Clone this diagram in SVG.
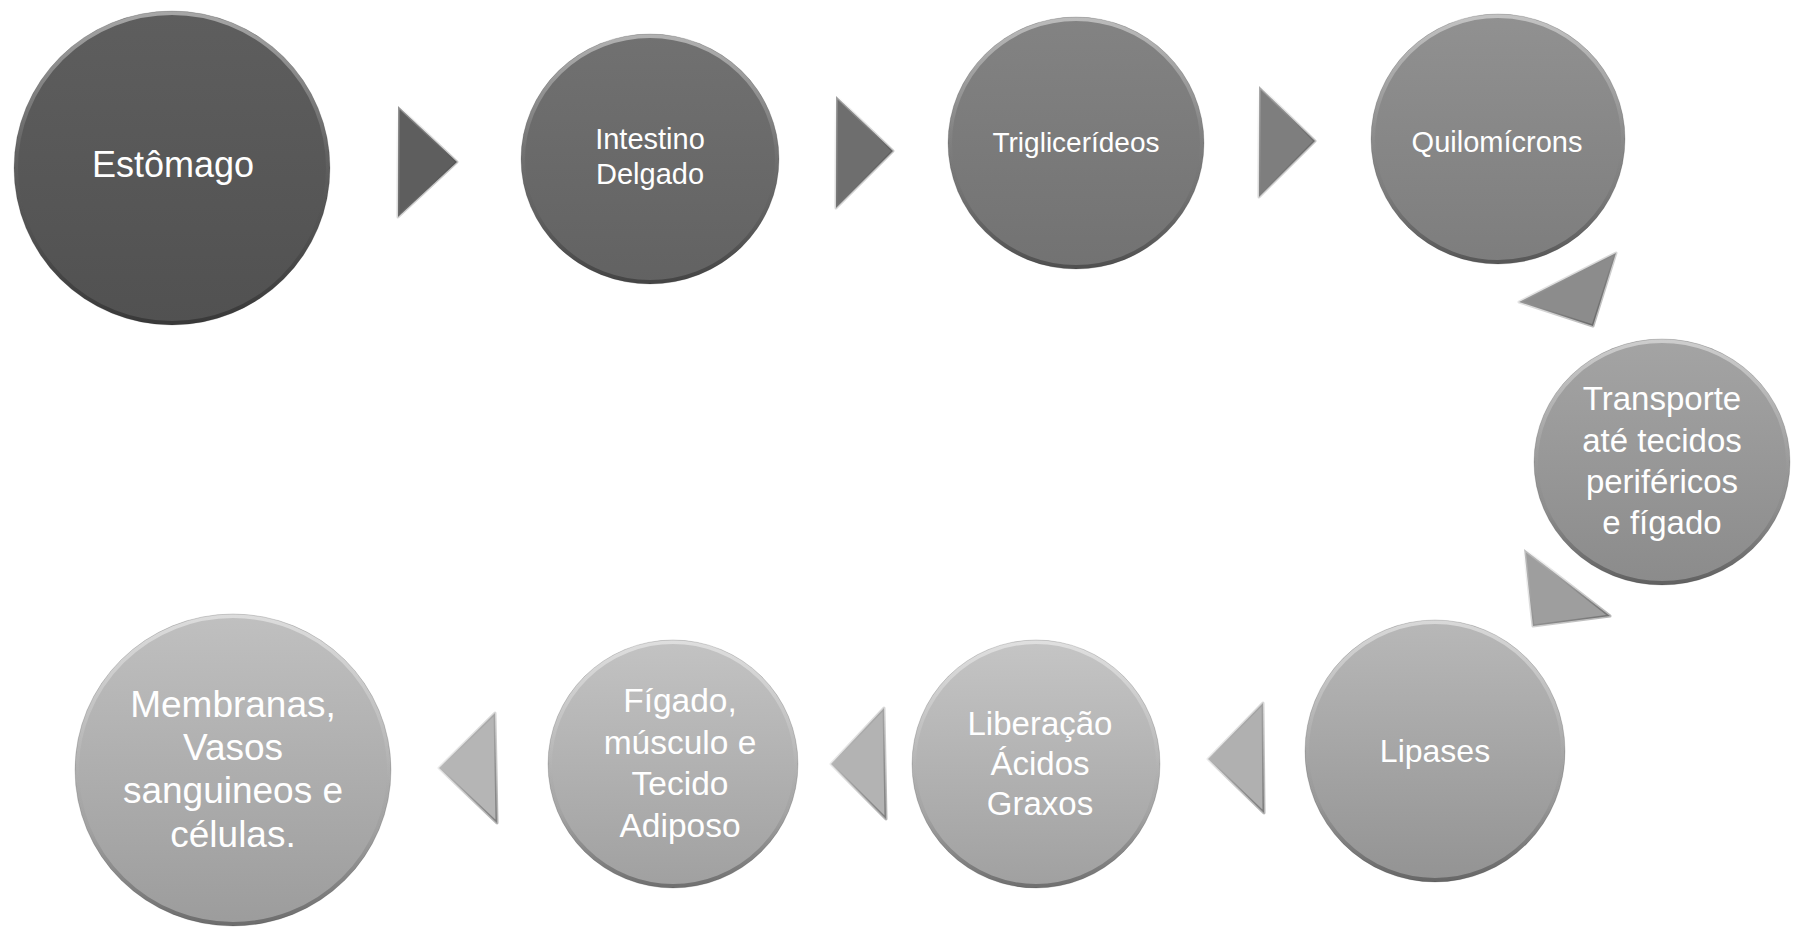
<svg xmlns="http://www.w3.org/2000/svg" width="1797" height="927" viewBox="0 0 1797 927">
  <style>
    .lbl { font-family: "Liberation Sans", Arial, sans-serif; fill: #ffffff; text-anchor: middle; }
    .rim { fill: none; stroke: url(#rim); stroke-width: 4; }
    .edge { fill: none; stroke: #000; stroke-opacity: 0.15; stroke-width: 1; }
    .tri { stroke-linejoin: round; }
    .tririm { fill: none; stroke: url(#tririm); stroke-width: 3; stroke-linejoin: round; }
  </style>
  <defs>
    <!-- bevel rim: light on top, shadowed at the bottom -->
    <linearGradient id="rim" x1="0" y1="0" x2="0" y2="1">
      <stop offset="0" stop-color="#fff" stop-opacity="0.45"/>
      <stop offset="0.45" stop-color="#fff" stop-opacity="0.06"/>
      <stop offset="0.7" stop-color="#000" stop-opacity="0.04"/>
      <stop offset="1" stop-color="#000" stop-opacity="0.3"/>
    </linearGradient>
    <linearGradient id="tririm" x1="0" y1="0" x2="1" y2="1">
      <stop offset="0" stop-color="#fff" stop-opacity="0.35"/>
      <stop offset="1" stop-color="#000" stop-opacity="0.3"/>
    </linearGradient>
    <linearGradient id="g1" x1="0" y1="0" x2="0" y2="1"><stop offset="0" stop-color="#5e5e5e"/><stop offset="1" stop-color="#515151"/></linearGradient>
    <linearGradient id="g2" x1="0" y1="0" x2="0" y2="1"><stop offset="0" stop-color="#717171"/><stop offset="1" stop-color="#626262"/></linearGradient>
    <linearGradient id="g3" x1="0" y1="0" x2="0" y2="1"><stop offset="0" stop-color="#838383"/><stop offset="1" stop-color="#727272"/></linearGradient>
    <linearGradient id="g4" x1="0" y1="0" x2="0" y2="1"><stop offset="0" stop-color="#919191"/><stop offset="1" stop-color="#7d7d7d"/></linearGradient>
    <linearGradient id="g5" x1="0" y1="0" x2="0" y2="1"><stop offset="0" stop-color="#a4a4a4"/><stop offset="1" stop-color="#8b8b8b"/></linearGradient>
    <linearGradient id="g6" x1="0" y1="0" x2="0" y2="1"><stop offset="0" stop-color="#b8b8b8"/><stop offset="1" stop-color="#939393"/></linearGradient>
    <linearGradient id="g7" x1="0" y1="0" x2="0" y2="1"><stop offset="0" stop-color="#c5c5c5"/><stop offset="1" stop-color="#a0a0a0"/></linearGradient>
    <linearGradient id="g8" x1="0" y1="0" x2="0" y2="1"><stop offset="0" stop-color="#c3c3c3"/><stop offset="1" stop-color="#a0a0a0"/></linearGradient>
    <linearGradient id="g9" x1="0" y1="0" x2="0" y2="1"><stop offset="0" stop-color="#c0c0c0"/><stop offset="1" stop-color="#9c9c9c"/></linearGradient>
  </defs>

  <rect width="1797" height="927" fill="#ffffff"/>

  <!-- flow arrows between the stages -->
  <g id="connectors">
    <g class="tri">
      <polygon points="398,106 398,217 457,162" fill="#5e5e5e"/>
      <polygon points="398,106 398,217 457,162" class="tririm"/>
      <polygon points="836,96 836,208 893,151" fill="#6e6e6e"/>
      <polygon points="836,96 836,208 893,151" class="tririm"/>
      <polygon points="1259,86 1259,197 1315,141" fill="#7e7e7e"/>
      <polygon points="1259,86 1259,197 1315,141" class="tririm"/>
      <polygon points="1519,302 1616,253 1593,326" fill="#8c8c8c"/>
      <polygon points="1519,302 1616,253 1593,326" class="tririm"/>
      <polygon points="1524,549 1533,626 1610,616" fill="#9e9e9e"/>
      <polygon points="1524,549 1533,626 1610,616" class="tririm"/>
      <polygon points="1208,759 1263,703 1264,813" fill="#b0b0b0"/>
      <polygon points="1208,759 1263,703 1264,813" class="tririm"/>
      <polygon points="831,764 884,708 886,819" fill="#b3b3b3"/>
      <polygon points="831,764 884,708 886,819" class="tririm"/>
      <polygon points="439,768 495,713 497,823" fill="#b5b5b5"/>
      <polygon points="439,768 495,713 497,823" class="tririm"/>
    </g>
  </g>

  <g id="node-estomago">
    <ellipse cx="172" cy="168" rx="158" ry="157" fill="url(#g1)"/>
    <ellipse cx="172" cy="168" rx="156" ry="155" class="rim"/>
    <ellipse cx="172" cy="168" rx="158" ry="157" class="edge"/>
    <text class="lbl" x="173" y="177" font-size="36">Estômago</text>
  </g>

  <g id="node-intestino">
    <ellipse cx="650" cy="159" rx="129" ry="125" fill="url(#g2)"/>
    <ellipse cx="650" cy="159" rx="127" ry="123" class="rim"/>
    <ellipse cx="650" cy="159" rx="129" ry="125" class="edge"/>
    <text class="lbl" x="650" y="149" font-size="29">Intestino</text>
    <text class="lbl" x="650" y="184" font-size="29">Delgado</text>
  </g>

  <g id="node-triglicerideos">
    <ellipse cx="1076" cy="143" rx="128" ry="126" fill="url(#g3)"/>
    <ellipse cx="1076" cy="143" rx="126" ry="124" class="rim"/>
    <ellipse cx="1076" cy="143" rx="128" ry="126" class="edge"/>
    <text class="lbl" x="1076" y="152" font-size="28">Triglicerídeos</text>
  </g>

  <g id="node-quilomicrons">
    <ellipse cx="1498" cy="139" rx="127" ry="125" fill="url(#g4)"/>
    <ellipse cx="1498" cy="139" rx="125" ry="123" class="rim"/>
    <ellipse cx="1498" cy="139" rx="127" ry="125" class="edge"/>
    <text class="lbl" x="1497" y="152" font-size="29">Quilomícrons</text>
  </g>

  <g id="node-transporte">
    <ellipse cx="1662" cy="462" rx="128" ry="123" fill="url(#g5)"/>
    <ellipse cx="1662" cy="462" rx="126" ry="121" class="rim"/>
    <ellipse cx="1662" cy="462" rx="128" ry="123" class="edge"/>
    <text class="lbl" x="1662" y="410" font-size="33">Transporte</text>
    <text class="lbl" x="1662" y="452" font-size="33">até tecidos</text>
    <text class="lbl" x="1662" y="493" font-size="33">periféricos</text>
    <text class="lbl" x="1662" y="534" font-size="33">e fígado</text>
  </g>

  <g id="node-lipases">
    <ellipse cx="1435" cy="751" rx="130" ry="131" fill="url(#g6)"/>
    <ellipse cx="1435" cy="751" rx="128" ry="129" class="rim"/>
    <ellipse cx="1435" cy="751" rx="130" ry="131" class="edge"/>
    <text class="lbl" x="1435" y="762" font-size="32">Lipases</text>
  </g>

  <g id="node-liberacao">
    <ellipse cx="1036" cy="764" rx="124" ry="124" fill="url(#g7)"/>
    <ellipse cx="1036" cy="764" rx="122" ry="122" class="rim"/>
    <ellipse cx="1036" cy="764" rx="124" ry="124" class="edge"/>
    <text class="lbl" x="1040" y="735" font-size="33">Liberação</text>
    <text class="lbl" x="1040" y="775" font-size="33">Ácidos</text>
    <text class="lbl" x="1040" y="815" font-size="33">Graxos</text>
  </g>

  <g id="node-figado">
    <ellipse cx="673" cy="764" rx="125" ry="124" fill="url(#g8)"/>
    <ellipse cx="673" cy="764" rx="123" ry="122" class="rim"/>
    <ellipse cx="673" cy="764" rx="125" ry="124" class="edge"/>
    <text class="lbl" x="680" y="712" font-size="33.5">Fígado,</text>
    <text class="lbl" x="680" y="754" font-size="33.5">músculo e</text>
    <text class="lbl" x="680" y="795" font-size="33.5">Tecido</text>
    <text class="lbl" x="680" y="837" font-size="33.5">Adiposo</text>
  </g>

  <g id="node-membranas">
    <ellipse cx="233" cy="770" rx="158" ry="156" fill="url(#g9)"/>
    <ellipse cx="233" cy="770" rx="156" ry="154" class="rim"/>
    <ellipse cx="233" cy="770" rx="158" ry="156" class="edge"/>
    <text class="lbl" x="233" y="717" font-size="37">Membranas,</text>
    <text class="lbl" x="233" y="760" font-size="37">Vasos</text>
    <text class="lbl" x="233" y="803" font-size="37">sanguineos e</text>
    <text class="lbl" x="233" y="847" font-size="37">células.</text>
  </g>
</svg>
